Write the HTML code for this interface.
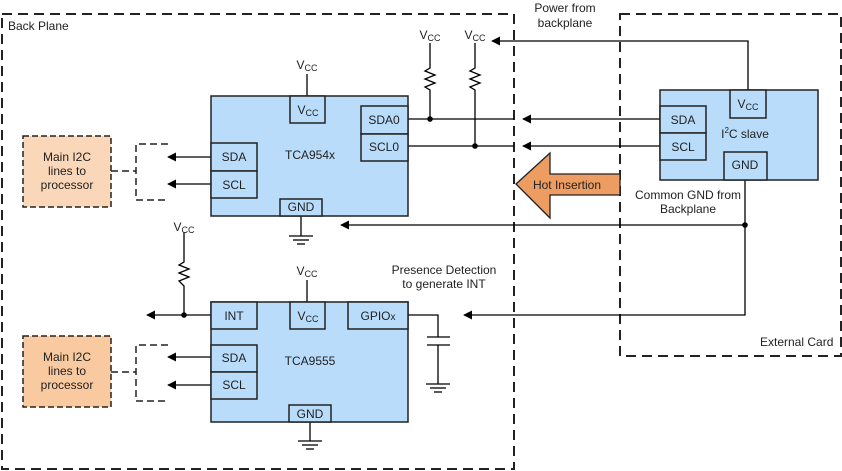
<!DOCTYPE html>
<html><head><meta charset="utf-8"><style>
html,body{margin:0;padding:0;background:#fff}
svg{display:block}
text{font-family:"Liberation Sans",sans-serif;font-size:12px;fill:#222}
</style></head><body>
<svg width="842" height="471" viewBox="0 0 842 471" xmlns="http://www.w3.org/2000/svg">
<defs>
<marker id="ah" viewBox="0 0 10 10" refX="9" refY="5" markerWidth="9" markerHeight="9" markerUnits="userSpaceOnUse" orient="auto"><path d="M0,0 L10,5 L0,10 z" fill="#000"/></marker>
</defs>
<!-- dashed containers -->
<rect x="2" y="14" width="512" height="455" fill="none" stroke="#222" stroke-width="2" stroke-dasharray="10,6"/>
<rect x="620" y="14" width="221" height="342" fill="none" stroke="#222" stroke-width="2" stroke-dasharray="10,6"/>
<text x="8" y="30">Back Plane</text>
<text x="760" y="346">External Card</text>

<g stroke="#000" stroke-width="1.3" fill="none">
<!-- TCA954x vcc -->
<line x1="307" y1="74" x2="307" y2="96"/>
<!-- gnd -->
<line x1="301" y1="216" x2="301" y2="236"/>
<line x1="289" y1="236" x2="313" y2="236"/><line x1="293" y1="240" x2="309" y2="240"/><line x1="297" y1="244" x2="305" y2="244"/>
<!-- SDA0/SCL0 lines -->
<line x1="408" y1="119" x2="514" y2="119"/>
<line x1="408" y1="146" x2="514" y2="146"/>
<line x1="660" y1="119" x2="523" y2="119" marker-end="url(#ah)"/>
<line x1="660" y1="146" x2="523" y2="146" marker-end="url(#ah)"/>
<!-- resistors -->
<polyline points="430,43 430,68 425,71 435,75 425,79 435,83 425,87 430,90 430,119"/>
<polyline points="475,43 475,68 470,71 480,75 470,79 480,83 470,87 475,90 475,146"/>
<!-- power from backplane -->
<polyline points="748,90 748,41 492,41" marker-end="url(#ah)"/>
<!-- GND common -->
<polyline points="745,180 745,315 464,315" marker-end="url(#ah)"/>
<line x1="745" y1="225" x2="341" y2="225" marker-end="url(#ah)"/>
<!-- TCA954x SDA/SCL arrows -->
<line x1="211" y1="157" x2="168" y2="157" marker-end="url(#ah)"/>
<line x1="211" y1="184" x2="168" y2="184" marker-end="url(#ah)"/>
<line x1="211" y1="357" x2="168" y2="357" marker-end="url(#ah)"/>
<line x1="211" y1="385" x2="168" y2="385" marker-end="url(#ah)"/>
<!-- bottom vcc resistor -->
<polyline points="184,232 184,262 179,265 189,269 179,273 189,277 179,281 184,286 184,315"/>
<line x1="211" y1="315" x2="147" y2="315" marker-end="url(#ah)"/>
<line x1="307" y1="280" x2="307" y2="302"/>
<!-- capacitor -->
<polyline points="408,315 438,315 438,337"/>
<line x1="427" y1="337" x2="450" y2="337"/><line x1="427" y1="345" x2="450" y2="345"/>
<line x1="438" y1="345" x2="438" y2="384"/>
<line x1="426" y1="384" x2="450" y2="384"/><line x1="430" y1="388" x2="446" y2="388"/><line x1="434" y1="392" x2="442" y2="392"/>
<!-- 9555 gnd -->
<line x1="310" y1="422" x2="310" y2="441"/>
<line x1="298" y1="441" x2="322" y2="441"/><line x1="302" y1="445" x2="318" y2="445"/><line x1="306" y1="449" x2="314" y2="449"/>
</g>
<g fill="#000">
<circle cx="430" cy="119" r="2.8"/><circle cx="475" cy="146" r="2.8"/>
<circle cx="745" cy="225" r="2.8"/><circle cx="184" cy="315" r="2.8"/>
</g>

<!-- dashed brackets & main boxes -->
<g stroke="#222" stroke-width="1.5" fill="none" stroke-dasharray="7,4">
<polyline points="168,144 136,144 136,200 168,200"/>
<line x1="111" y1="171" x2="136" y2="171"/>
<polyline points="168,345 136,345 136,401 168,401"/>
<line x1="111" y1="372" x2="136" y2="372"/>
</g>
<rect x="23" y="136" width="88" height="71" fill="#fad7b8" stroke="#222" stroke-width="1.5" stroke-dasharray="6,3"/>
<rect x="23" y="336" width="88" height="71" fill="#f9c9a0" stroke="#222" stroke-width="1.5" stroke-dasharray="6,3"/>
<text x="67" y="161" text-anchor="middle">Main I2C</text><text x="67" y="175" text-anchor="middle">lines to</text><text x="67" y="189" text-anchor="middle">processor</text>
<text x="67" y="361" text-anchor="middle">Main I2C</text><text x="67" y="375" text-anchor="middle">lines to</text><text x="67" y="389" text-anchor="middle">processor</text>

<!-- chips -->
<g fill="#b9dcfb" stroke="#222" stroke-width="1.5">
<rect x="211" y="96" width="197" height="120"/>
<rect x="290" y="96" width="35" height="27"/>
<rect x="361" y="106" width="47" height="28"/><rect x="361" y="134" width="47" height="27"/>
<rect x="211" y="143" width="46" height="28"/><rect x="211" y="171" width="46" height="27"/>
<rect x="280" y="199" width="42" height="17"/>

<rect x="211" y="302" width="197" height="120"/>
<rect x="211" y="302" width="46" height="27"/>
<rect x="290" y="302" width="35" height="27"/>
<rect x="348" y="302" width="60" height="27"/>
<rect x="211" y="345" width="46" height="27"/><rect x="211" y="372" width="46" height="27"/>
<rect x="289" y="405" width="42" height="17"/>

<rect x="660" y="90" width="158" height="90"/>
<rect x="730" y="90" width="36" height="28"/>
<rect x="660" y="106" width="46" height="27"/><rect x="660" y="133" width="46" height="27"/>
<rect x="724" y="152" width="43" height="28"/>
</g>

<!-- hot insertion arrow -->
<polygon points="516,184 550,153 550,174 620,174 620,195 550,195 550,218" fill="#ee9d62" stroke="#222" stroke-width="1.3"/>
<text x="567" y="189" text-anchor="middle">Hot Insertion</text>

<!-- chip labels -->
<text x="310" y="159" text-anchor="middle">TCA954x</text>
<text x="308" y="114" text-anchor="middle">V<tspan font-size="9" dy="2">CC</tspan></text>
<text x="384" y="124" text-anchor="middle">SDA0</text>
<text x="384" y="151" text-anchor="middle">SCL0</text>
<text x="234" y="161" text-anchor="middle">SDA</text>
<text x="234" y="189" text-anchor="middle">SCL</text>
<text x="301" y="211" text-anchor="middle">GND</text>

<text x="310" y="365" text-anchor="middle">TCA9555</text>
<text x="234" y="320" text-anchor="middle">INT</text>
<text x="308" y="320" text-anchor="middle">V<tspan font-size="9" dy="2">CC</tspan></text>
<text x="378" y="320" text-anchor="middle">GPIO<tspan font-size="10">x</tspan></text>
<text x="234" y="362" text-anchor="middle">SDA</text>
<text x="234" y="389" text-anchor="middle">SCL</text>
<text x="310" y="418" text-anchor="middle">GND</text>

<text x="748" y="108" text-anchor="middle">V<tspan font-size="9" dy="2">CC</tspan></text>
<text x="683" y="124" text-anchor="middle">SDA</text>
<text x="683" y="151" text-anchor="middle">SCL</text>
<text x="745" y="169" text-anchor="middle">GND</text>
<text x="745" y="138" text-anchor="middle">I<tspan font-size="8" dy="-5">2</tspan><tspan dy="5">C slave</tspan></text>

<!-- vcc labels -->
<text x="307" y="69" text-anchor="middle">V<tspan font-size="9" dy="2">CC</tspan></text>
<text x="430" y="39" text-anchor="middle">V<tspan font-size="9" dy="2">CC</tspan></text>
<text x="475" y="39" text-anchor="middle">V<tspan font-size="9" dy="2">CC</tspan></text>
<text x="184" y="231" text-anchor="middle">V<tspan font-size="9" dy="2">CC</tspan></text>
<text x="307" y="275" text-anchor="middle">V<tspan font-size="9" dy="2">CC</tspan></text>

<text x="565" y="12" text-anchor="middle">Power from</text>
<text x="565" y="27" text-anchor="middle">backplane</text>
<text x="688" y="199" text-anchor="middle">Common GND from</text>
<text x="688" y="213" text-anchor="middle">Backplane</text>
<text x="444" y="274" text-anchor="middle">Presence Detection</text>
<text x="444" y="288" text-anchor="middle">to generate INT</text>
</svg>
</body></html>
